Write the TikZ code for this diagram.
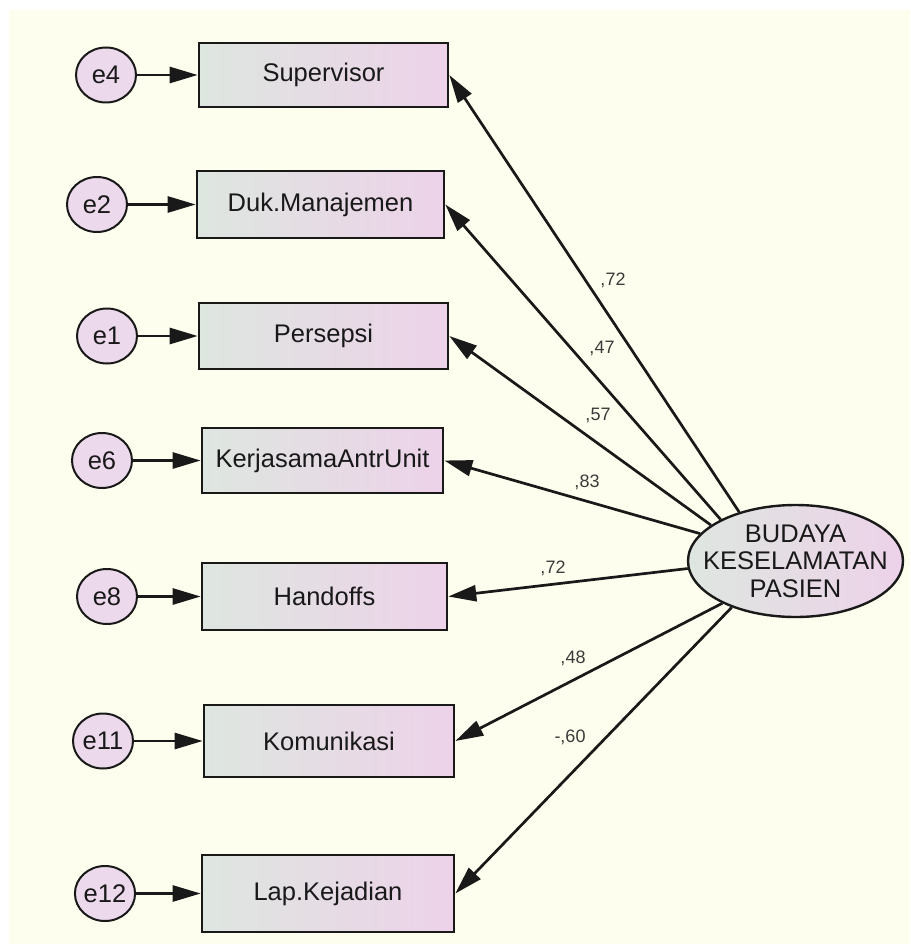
\documentclass[tikz,border=0pt]{standalone}
\usepackage{fontspec}
\setmainfont{Liberation Sans}
\usetikzlibrary{arrows.meta,shapes.geometric,shadings}
\definecolor{cream}{RGB}{254,254,238}
\definecolor{gleft}{RGB}{222,230,224}
\definecolor{pright}{RGB}{237,210,233}
\definecolor{errfill}{RGB}{236,218,236}
\definecolor{ink}{RGB}{25,25,25}
\begin{document}
\begin{tikzpicture}[x=1pt,y=-1pt,
  obsbox/.style={rectangle, draw=ink, line width=2.6pt, left color=gleft, right color=pright, font=\fontsize{25.5}{27}\selectfont, text=ink, inner sep=0pt},
  errnode/.style={ellipse, draw=ink, line width=2pt, fill=errfill, minimum width=60pt, minimum height=55pt, inner sep=0pt, font=\fontsize{25.5}{27}\selectfont, text=ink},
  latent/.style={ellipse, draw=ink, line width=2.4pt, left color=gleft, right color=pright, minimum width=215pt, minimum height=112pt, inner xsep=-19pt, inner ysep=0pt, align=center, font=\fontsize{25.5}{27.5}\selectfont, text=ink},
  lnk/.style={line width=2.7pt, draw=ink, -{Triangle[length=28pt,width=16pt]}},
  coef/.style={font=\fontsize{18}{20}\selectfont, text=ink!85, inner sep=0pt}
]
\useasboundingbox (0,0) rectangle (910,944);
\fill[white] (0,0) rectangle (910,944);
\fill[cream] (9,10) rectangle (910,944);

% observed variables
\node[obsbox, minimum width=249pt, minimum height=64pt] (sup) at (323.5,75) {Supervisor};
\node[obsbox, minimum width=247pt, minimum height=67pt] (duk) at (320.5,204.5) {Duk.Manajemen};
\node[obsbox, minimum width=249pt, minimum height=66pt] (per) at (323.5,336) {Persepsi};
\node[obsbox, minimum width=241pt, minimum height=65pt] (ker) at (322.5,460.5) {KerjasamaAntrUnit};
\node[obsbox, minimum width=245pt, minimum height=67pt] (han) at (324.5,596.5) {Handoffs};
\node[obsbox, minimum width=250pt, minimum height=72pt] (kom) at (329,741) {Komunikasi};
\node[obsbox, minimum width=252pt, minimum height=77pt] (lap) at (328,893.5) {Lap.Kejadian};

% error terms
\node[errnode] (e4) at (106,75) {e4};
\node[errnode] (e2) at (97,204.5) {e2};
\node[errnode] (e1) at (107,336) {e1};
\node[errnode] (e6) at (102,460.5) {e6};
\node[errnode] (e8) at (107,596.5) {e8};
\node[errnode] (e11) at (103,741) {e11};
\node[errnode] (e12) at (105,893.5) {e12};

% latent
\node[latent] (bud) at (795.5,561) {BUDAYA\\KESELAMATAN\\PASIEN};

% error arrows
\draw[lnk] (e4) -- (sup);
\draw[lnk] (e2) -- (duk);
\draw[lnk] (e1) -- (per);
\draw[lnk] (e6) -- (ker);
\draw[lnk] (e8) -- (han);
\draw[lnk] (e11) -- (kom);
\draw[lnk] (e12) -- (lap);

% loadings
\draw[lnk] (bud.139.6) -- (sup.east);
\draw[lnk] (bud.151.5) -- (duk.east);
\draw[lnk] (bud.157.2) -- (per.east);
\draw[lnk] (bud.164.1) -- (ker.east);
\draw[lnk] (bud.184.3) -- (han.east);
\draw[lnk] (bud.210.2) -- (kom.east);
\draw[lnk] (bud.216.8) -- (lap.east);

% coefficients
\node[coef] (c1) at (613,280) {,72};
\node[coef] (c2) at (602,348) {,47};
\node[coef] (c3) at (598,415) {,57};
\node[coef] (c4) at (587,482) {,83};
\node[coef] (c5) at (553,568) {,72};
\node[coef] (c6) at (573,658) {,48};
\node[coef] (c7) at (570,737) {-,60};
\end{tikzpicture}
\end{document}
